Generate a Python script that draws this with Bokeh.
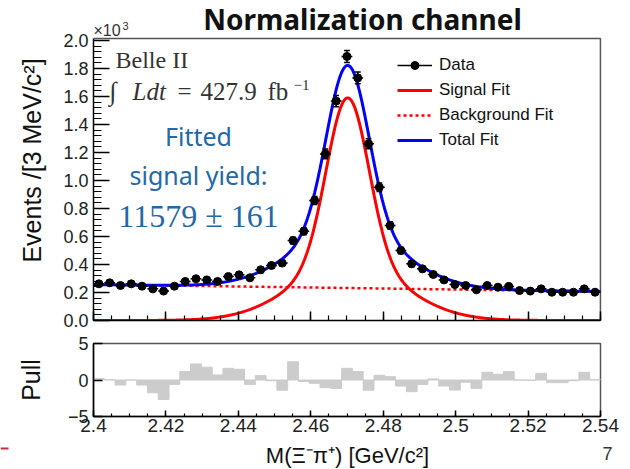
import numpy as np
from bokeh.plotting import figure
from bokeh.layouts import column
from bokeh.models import (Label, Legend, LegendItem, Range1d, SingleIntervalTicker,
                          CustomJSTickFormatter, BoxAnnotation)
from bokeh.embed import file_html
from bokeh.resources import INLINE

# ---------------- values ----------------
mass_range = [2.40, 2.54]          # GeV/c^2
n_bins = 47
events_k = [0.262, 0.269, 0.250, 0.262, 0.245, 0.226, 0.210, 0.245, 0.279, 0.298,
            0.290, 0.279, 0.314, 0.326, 0.305, 0.362, 0.393, 0.410, 0.571, 0.638,
            0.857, 1.190, 1.567, 1.886, 1.733, 1.262, 0.952, 0.679, 0.500, 0.405,
            0.369, 0.329, 0.290, 0.257, 0.250, 0.219, 0.250, 0.238, 0.243, 0.214,
            0.210, 0.226, 0.202, 0.202, 0.202, 0.226, 0.202]   # x10^3 events / bin
pulls = [0.20, 0.05, -0.69, 0.00, -0.69, -1.75, -2.67, -0.60, 1.15, 2.20,
         1.75, 0.69, 1.60, 1.47, -0.60, 0.60, -0.10, -1.40, 2.50, -0.20,
         -0.45, -1.05, -1.15, 1.60, 1.15, -1.40, 0.64, 0.46, -0.83, -1.60,
         -0.60, 0.15, -0.83, -1.38, -0.30, -1.15, 1.06, 0.78, 1.15, 0.00,
         -0.05, 0.92, -0.37, -0.37, -0.10, 1.06, 0.05]
# fit model parameters (double Gaussian signal + linear background), x10^3 units
sig_mean = 2.4702
sig_amps = [1.19, 0.40]
sig_sigmas = [0.0058, 0.0150]
bkg_start = 0.257      # at 2.40
bkg_slope = -0.357     # per GeV/c^2

y_main_top = 2.014
legend_labels = ["Data", "Signal Fit", "Background Fit", "Total Fit"]

# ---------------- derived ----------------
edges = np.linspace(mass_range[0], mass_range[1], n_bins + 1)
centers = 0.5 * (edges[:-1] + edges[1:])
ev = np.array(events_k)
ev_err = np.sqrt(ev * 1000.0) / 1000.0

xf = np.linspace(mass_range[0], mass_range[1], 700)
signal = sum(a * np.exp(-0.5 * ((xf - sig_mean) / s) ** 2) for a, s in zip(sig_amps, sig_sigmas))
background = bkg_start + bkg_slope * (xf - mass_range[0])
total = signal + background

FONT = "Liberation Sans"
SERIF = "Liberation Serif"
BLUE_TXT = "#2468a8"
PX_PER_X = 3621.0      # screen pixels per GeV/c^2
PX_PER_Y = 140.0       # screen pixels per 10^3 events


def no_align(f):
    try:
        f.frame_align = False
    except Exception:
        pass
    return f


# ---------------- main panel (frame reaches the page top; box drawn by hand) ----------------
p = figure(width=630, height=335,
           x_range=Range1d(mass_range[0], mass_range[0] + 537 / PX_PER_X),
           y_range=Range1d(0, 320 / PX_PER_Y),
           output_backend="svg", toolbar_location=None,
           min_border_left=93, min_border_right=0, min_border_top=0, min_border_bottom=15)
no_align(p)
p.grid.visible = False
p.outline_line_color = None
p.background_fill_color = "white"
p.border_fill_color = "white"

p.line(x=[mass_range[0], mass_range[1], mass_range[1]], y=[y_main_top, y_main_top, 0],
       line_color="#555555", line_width=1.5)

xa = p.xaxis[0]
xa.bounds = (mass_range[0], mass_range[1])
xa.ticker = SingleIntervalTicker(interval=0.02, num_minor_ticks=4)
xa.formatter = CustomJSTickFormatter(code="return '';")
xa.major_label_text_font_size = "10px"
xa.major_label_standoff = 0
xa.major_tick_in = 9
xa.major_tick_out = 0
xa.minor_tick_in = 5
xa.minor_tick_out = 0
xa.axis_line_width = 1.5
xa.major_tick_line_width = 1.5
xa.minor_tick_line_width = 1.2

ya = p.yaxis[0]
ya.bounds = (0, y_main_top)
ya.ticker = SingleIntervalTicker(interval=0.2, num_minor_ticks=5)
ya.formatter = CustomJSTickFormatter(code="return tick.toFixed(1);")
ya.major_tick_in = 16
ya.major_tick_out = 0
ya.minor_tick_in = 8
ya.minor_tick_out = 0
ya.axis_line_width = 1.5
ya.major_tick_line_width = 1.5
ya.minor_tick_line_width = 1.2
ya.major_label_text_font = FONT
ya.major_label_text_font_size = "18px"
ya.major_label_text_color = "#222222"
ya.major_label_standoff = 5
ya.axis_label = "Events /[3 MeV/c\u00b2]"
ya.axis_label_text_font = FONT
ya.axis_label_text_font_size = "25px"
ya.axis_label_text_font_style = "normal"
ya.axis_label_text_color = "#111111"
ya.axis_label_standoff = 14

r_sig = p.line(xf, signal, line_color="#ff0000", line_width=3)
r_bkg = p.line(xf, background, line_color="#ff0000", line_width=2.5, line_dash="3 3")
r_tot = p.line(xf, total, line_color="#0000ff", line_width=3)

cap = 0.0008
r_xerr = p.segment(x0=edges[:-1], x1=edges[1:], y0=ev, y1=ev, line_color="black", line_width=1.5)
p.segment(x0=centers, x1=centers, y0=ev - ev_err, y1=ev + ev_err, line_color="black", line_width=1.5)
p.segment(x0=centers - cap, x1=centers + cap, y0=ev + ev_err, y1=ev + ev_err, line_color="black", line_width=1.5)
p.segment(x0=centers - cap, x1=centers + cap, y0=ev - ev_err, y1=ev - ev_err, line_color="black", line_width=1.5)
r_pts = p.scatter(centers, ev, marker="circle", size=8, fill_color="black", line_color="black")
r_dbar = p.scatter([np.nan], [np.nan], marker="dash", angle=np.pi / 2, size=14,
                   line_color="black", line_width=1.5)

legend = Legend(items=[
    LegendItem(label=legend_labels[0], renderers=[r_xerr, r_dbar, r_pts]),
    LegendItem(label=legend_labels[1], renderers=[r_sig]),
    LegendItem(label=legend_labels[2], renderers=[r_bkg]),
    LegendItem(label=legend_labels[3], renderers=[r_tot]),
], location=(304, 170), border_line_color=None, background_fill_alpha=0,
    label_text_font=FONT, label_text_font_size="17px", label_text_color="#111111",
    glyph_width=35, glyph_height=20, label_height=20, spacing=5, padding=0, margin=0,
    label_standoff=7)
p.add_layout(legend)


def px2x(px):
    return mass_range[0] + (px - 93) / PX_PER_X


def py2y(py):
    return (320 - py) / PX_PER_Y


def note(px, py, text, font=SERIF, size="25px", style="normal", color="#333333", align="left"):
    p.add_layout(Label(x=px2x(px), y=py2y(py), text=text, text_align=align,
                       text_baseline="middle", text_font=font, text_font_style=style,
                       text_font_size=size, text_color=color))


note(362, 18, "Normalization channel", font="Noto Sans", size="28px", style="bold",
     color="#111111", align="center")
note(93, 30, "\u00d710", font=FONT, size="16px")
note(122, 25, "3", font=FONT, size="11px")

note(115, 59, "Belle II", size="24px")
note(109, 91, "\u222b", size="26px")
note(132, 91, "Ldt", style="italic")
note(177, 91, "=")
note(200, 91, "427.9")
note(267, 91, "fb")
note(293, 84, "\u22121", size="15px")

note(198, 135, "Fitted", font="Noto Sans", size="25px", color=BLUE_TXT, align="center")
note(198, 174, "signal yield:", font="Noto Sans", size="25px", color=BLUE_TXT, align="center")
note(198, 215, "11579 \u00b1 161", font=SERIF, size="32px", color=BLUE_TXT, align="center")

# ---------------- pull panel ----------------
q = figure(width=630, height=105, x_range=Range1d(*mass_range), y_range=Range1d(-5, 5),
           output_backend="svg", toolbar_location=None,
           min_border_left=93, min_border_right=30, min_border_top=8, min_border_bottom=24)
no_align(q)
q.grid.visible = False
q.outline_line_color = "#555555"
q.outline_line_width = 1.5
q.background_fill_color = "white"
q.border_fill_color = "white"

q.quad(left=edges[:-1], right=edges[1:], bottom=0, top=pulls,
       fill_color="#cccccc", line_color="#cccccc", line_width=1)

qx = q.xaxis[0]
qx.ticker = SingleIntervalTicker(interval=0.02, num_minor_ticks=4)
qx.formatter = CustomJSTickFormatter(code="return tick.toFixed(2).replace(/0$/, '');")
qx.major_tick_in = 6
qx.major_tick_out = 0
qx.minor_tick_in = 3
qx.minor_tick_out = 0
qx.axis_line_width = 1.5
qx.major_tick_line_width = 1.5
qx.minor_tick_line_width = 1.2
qx.major_label_text_font = FONT
qx.major_label_text_font_size = "19px"
qx.major_label_text_color = "#222222"
qx.major_label_standoff = 2

qy = q.yaxis[0]
qy.ticker = SingleIntervalTicker(interval=5, num_minor_ticks=0)
qy.formatter = CustomJSTickFormatter(
    code="return tick < 0 ? '\\u2212' + Math.abs(tick).toFixed(0) : tick.toFixed(0);")
qy.major_tick_in = 9
qy.major_tick_out = 0
qy.minor_tick_in = 0
qy.minor_tick_out = 0
qy.axis_line_width = 1.5
qy.major_tick_line_width = 1.5
qy.major_label_text_font = FONT
qy.major_label_text_font_size = "18px"
qy.major_label_text_color = "#222222"
qy.major_label_standoff = 5
qy.axis_label = "Pull"
qy.axis_label_text_font = FONT
qy.axis_label_text_font_size = "25px"
qy.axis_label_text_font_style = "normal"
qy.axis_label_text_color = "#111111"
qy.axis_label_standoff = 20

# ---------------- bottom strip: axis title, page number (page pixel coordinates) ----------------
bot = figure(width=630, height=29, x_range=Range1d(0, 630), y_range=Range1d(469, 440),
             output_backend="svg", toolbar_location=None, min_border=0,
             x_axis_type=None, y_axis_type=None)
no_align(bot)
bot.outline_line_color = None
bot.background_fill_color = "white"
bot.border_fill_color = "white"
bot.add_layout(Label(x=347, y=455, text="M(\u039e\u207b\u03c0\u207a) [GeV/c\u00b2]", text_align="center",
                     text_baseline="middle", text_font=FONT, text_font_size="22px",
                     text_color="#111111"))
bot.add_layout(Label(x=607, y=453, text="7", text_align="center", text_baseline="middle",
                     text_font=FONT, text_font_size="18px", text_color="#333333"))
bot.add_layout(BoxAnnotation(left=0, right=8, top=447, bottom=449,
                             fill_color="#c0303a", fill_alpha=1.0, line_color=None))

layout = column(p, q, bot, spacing=0)
open("out.html", "w").write(file_html(layout, INLINE))
